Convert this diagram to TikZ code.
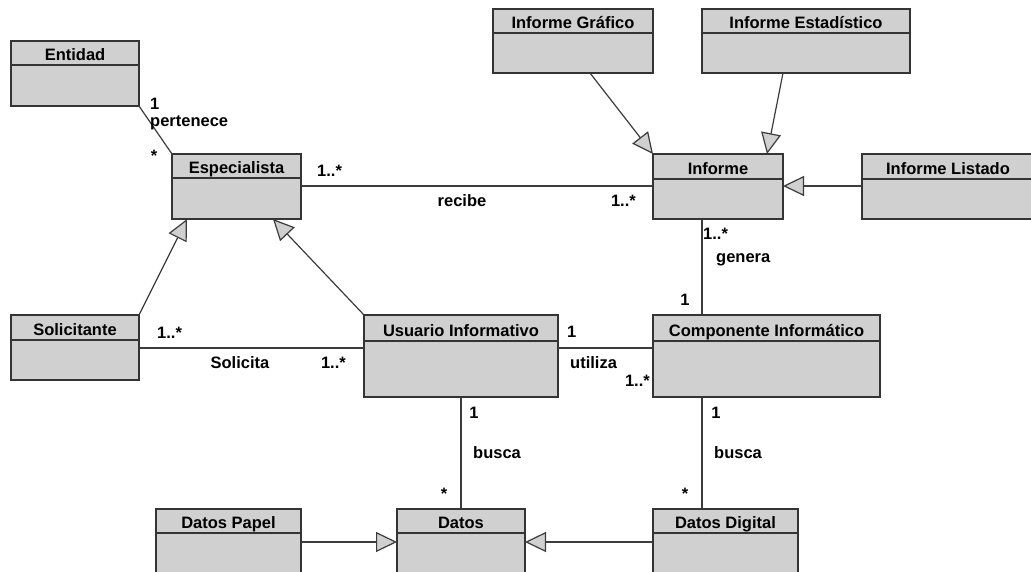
\documentclass[tikz,border=0pt]{standalone}
\usepackage{fontspec}
\setmainfont{Liberation Sans}
\usetikzlibrary{arrows.meta,calc,fit}

\definecolor{boxfill}{RGB}{208,208,208}
\definecolor{edgecol}{RGB}{52,52,52}
\definecolor{wirecol}{RGB}{60,60,60}

\tikzset{
  clsbox/.style={draw=edgecol, fill=boxfill, line width=1.5pt, inner sep=0pt, outer sep=0pt},
  clsdiv/.style={draw=edgecol, line width=1.5pt},
  clstitle/.style={font=\bfseries\fontsize{16.5}{18}\selectfont, inner sep=0pt, anchor=base, text=black},
  assoc/.style={draw=wirecol, line width=1.2pt},
  inherit/.style={draw=wirecol, line width=1.2pt,
    -{Triangle[length=21pt, width=20pt, fill=boxfill]}},
  lbl/.style={font=\bfseries\fontsize{16.5}{18}\selectfont, inner sep=0pt, text=black},
}

% class box: name, x1, y1, x2, y2, header height, title
\newcommand{\umlclass}[7]{%
  \node[clsbox, fit={(#2,#3) (#4,#5)}] (#1) {};
  \draw[clsdiv] (#2,{#3+#6}) -- (#4,{#3+#6});
  \node[clstitle] (#1-t) at ({(#2+#4)/2},{#3+#6-5}) {#7};
}

\begin{document}
\begin{tikzpicture}[x=1pt, y=-1pt]
  \fill[white] (0,0) rectangle (1031,571);
  \useasboundingbox (0,0) rectangle (1031,571);

  % classes
  \umlclass{ent}{11}{41}{139}{106}{24}{Entidad}
  \umlclass{esp}{172}{154}{301}{219}{24}{Especialista}
  \umlclass{igr}{493}{9}{653}{73}{24}{Informe Gráfico}
  \umlclass{ies}{702}{9}{910}{73}{24}{Informe Estadístico}
  \umlclass{inf}{653}{154}{783}{219}{25}{Informe}
  \umlclass{ili}{862}{154}{1034}{219}{25}{Informe Listado}
  \umlclass{sol}{11}{315}{139}{380}{25}{Solicitante}
  \umlclass{usu}{364}{315}{558}{397}{26}{Usuario Informativo}
  \umlclass{com}{653}{315}{880}{397}{26}{Componente Informático}
  \umlclass{dpa}{156}{509}{301}{585}{24}{Datos Papel}
  \umlclass{dat}{397}{509}{525}{585}{24}{Datos}
  \umlclass{ddi}{653}{509}{798}{585}{24}{Datos Digital}

  % associations
  \draw[assoc] (ent.south east) -- (esp.north west);
  \draw[assoc] ($(esp.north east)+(0,32)$) -- ($(inf.north west)+(0,32)$);
  \draw[assoc] ($(inf.south west)+(49,0)$) -- ($(com.north west)+(49,0)$);
  \draw[assoc] ($(sol.north east)+(0,33)$) -- ($(usu.north west)+(0,33)$);
  \draw[assoc] ($(usu.north east)+(0,33)$) -- ($(com.north west)+(0,33)$);
  \draw[assoc] ($(usu.south west)+(97,0)$) -- ($(dat.north west)+(64,0)$);
  \draw[assoc] ($(com.south west)+(49,0)$) -- ($(ddi.north west)+(49,0)$);

  % generalizations
  \draw[inherit] ($(igr.south west)+(97,0)$) -- (inf.north west);
  \draw[inherit] ($(ies.south west)+(81,0)$) -- ($(inf.north west)+(114,0)$);
  \draw[inherit] ($(ili.north west)+(0,32)$) -- ($(inf.north east)+(0,32)$);
  \draw[inherit] (sol.north east) -- ($(esp.south west)+(15,0)$);
  \draw[inherit] (usu.north west) -- ($(esp.south west)+(101,0)$);
  \draw[inherit] ($(dpa.north east)+(0,33)$) -- ($(dat.north west)+(0,33)$);
  \draw[inherit] ($(ddi.north west)+(0,33)$) -- ($(dat.north east)+(0,33)$);

  % role names and multiplicities
  \node[lbl, anchor=base west] (m1) at (150,109) {1};
  \node[lbl, anchor=base west] (r1) at (150,126) {pertenece};
  \node[lbl, anchor=base] (m2) at (154,161) {*};

  \node[lbl, anchor=base west] (m3) at (317,176) {1..*};
  \node[lbl, anchor=base] (r2) at (462,206) {recibe};
  \node[lbl, anchor=base east] (m4) at (636,206) {1..*};

  \node[lbl, anchor=base west] (m5) at (703,239) {1..*};
  \node[lbl, anchor=base west] (r3) at (716,262) {genera};
  \node[lbl, anchor=base] (m6) at (685,305) {1};

  \node[lbl, anchor=base west] (m7) at (157,338) {1..*};
  \node[lbl, anchor=base] (r4) at (240,368) {Solicita};
  \node[lbl, anchor=base east] (m8) at (346,368) {1..*};

  \node[lbl, anchor=base west] (m9) at (567,337) {1};
  \node[lbl, anchor=base west] (r5) at (570,368) {utiliza};
  \node[lbl, anchor=base east] (m10) at (650,386) {1..*};

  \node[lbl, anchor=base] (m11) at (474,418) {1};
  \node[lbl, anchor=base west] (r6) at (473,458) {busca};
  \node[lbl, anchor=base] (m12) at (444,499) {*};

  \node[lbl, anchor=base] (m13) at (716,418) {1};
  \node[lbl, anchor=base west] (r7) at (714,458) {busca};
  \node[lbl, anchor=base] (m14) at (685,499) {*};
\end{tikzpicture}
\end{document}
